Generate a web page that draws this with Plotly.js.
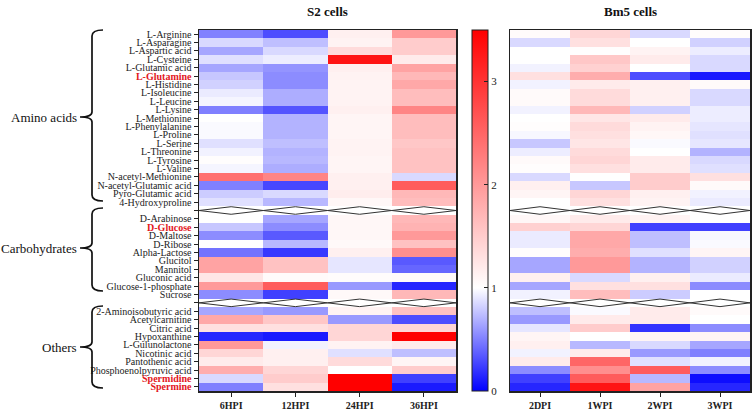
<!DOCTYPE html>
<html>
<head>
<meta charset="utf-8">
<script src="https://cdn.plot.ly/plotly-3.0.1.min.js"></script>
<style>html,body{margin:0;padding:0;background:#fff;}#chart{width:756px;height:413px;}</style>
</head>
<body>
<div id="chart"></div>
<script>
// Row labels ('' = broken-axis separator row)
const rowLabels = [
  'L-Arginine','L-Asparagine','L-Aspartic acid','L-Cysteine','L-Glutamic acid','L-Glutamine',
  'L-Histidine','L-Isoleucine','L-Leucine','L-Lysine','L-Methionine','L-Phenylalanine','L-Proline',
  'L-Serine','L-Threonine','L-Tyrosine','L-Valine','N-acetyl-Methionine','N-acetyl-Glutamic acid',
  'Pyro-Glutamic acid','4-Hydroxyproline','',
  'D-Arabinose','D-Glucose','D-Maltose','D-Ribose','Alpha-Lactose','Glucitol','Mannitol',
  'Gluconic acid','Glucose-1-phosphate','Sucrose','',
  '2-Aminoisobutyric acid','Acetylcarnitine','Citric acid','Hypoxanthine','L-Gulunolactone',
  'Nicotinic acid','Pantothenic acid','Phosphoenolpyruvic acid','Spermidine','Spermine'
];
const highlighted = ['L-Glutamine','D-Glucose','Spermidine','Spermine'];
const groupNames = ['Amino acids','Carbohydrates','Others'];

const s2Cols = ['6HPI','12HPI','24HPI','36HPI'];
const bm5Cols = ['2DPI','1WPI','2WPI','3WPI'];

// S2 cells
const s2_6HPI  = [0.5,0.85,0.65,0.88,0.65,0.78,0.82,0.92,0.96,0.5,1.0,0.98,0.98,0.88,0.95,1.02,0.96,2.4,0.5,0.8,0.88,null,1.0,0.78,0.55,1.0,0.45,1.9,1.9,1.25,2.0,0.55,null,0.65,1.85,1.3,0.15,2.0,1.4,1.2,1.8,0.85,0.5];
const s2_12HPI = [0.3,0.75,0.85,0.93,0.58,0.55,0.55,0.68,0.68,0.33,0.7,0.7,0.7,0.75,0.7,0.72,0.68,2.2,0.28,0.85,0.72,null,0.65,0.55,0.35,0.72,0.22,1.6,1.6,1.05,2.6,0.25,null,0.6,1.55,1.3,0.1,0.95,1.15,1.15,1.4,1.5,1.3];
const s2_24HPI = [1.15,1.12,1.35,3.3,1.15,1.12,1.12,1.12,1.12,1.15,1.1,1.1,1.1,1.12,1.12,1.1,1.1,1.15,1.15,1.18,1.08,null,1.08,1.08,1.08,1.06,1.15,0.9,0.9,1.03,0.6,1.06,null,1.12,0.6,1.4,1.4,1.12,0.88,1.35,1.0,3.5,3.5];
const s2_36HPI = [2.0,1.5,1.5,1.2,1.9,1.7,1.85,1.65,1.65,2.2,1.65,1.65,1.65,1.55,1.6,1.6,1.6,0.85,2.6,1.7,1.65,null,1.7,1.75,2.0,1.6,2.1,0.35,0.4,1.05,0.15,1.7,null,1.6,0.3,1.4,3.5,1.2,0.75,1.1,1.5,0.25,0.1];

// Bm5 cells
const bm5_2DPI = [1.04,0.85,1.0,1.0,0.95,1.3,0.95,1.05,1.05,0.95,1.0,1.02,0.97,0.78,0.93,1.05,1.02,0.85,1.15,1.1,1.0,null,1.08,1.45,0.92,0.92,1.02,0.65,0.65,1.15,0.65,0.95,null,0.75,0.6,0.9,1.1,1.15,0.95,1.2,0.55,0.25,0.15];
const bm5_1WPI = [1.4,1.3,1.02,1.55,1.45,1.8,1.2,1.35,1.35,1.7,1.25,1.35,1.3,1.25,1.35,1.4,1.3,1.0,0.78,1.4,1.3,null,1.2,1.4,1.85,1.85,1.8,2.0,2.0,0.85,1.3,1.65,null,0.98,1.2,1.5,1.0,0.72,1.2,2.5,2.1,2.6,3.3];
const bm5_2WPI = [0.85,1.0,1.12,1.2,1.0,0.3,1.15,1.15,1.15,0.82,1.2,1.12,1.08,0.98,1.0,1.2,1.2,1.5,1.5,1.15,1.12,null,1.12,0.25,0.75,0.75,0.88,0.7,0.7,1.15,1.3,0.8,null,1.2,1.2,0.2,1.1,0.85,0.6,0.88,2.6,0.72,1.9];
const bm5_3WPI = [1.03,0.82,0.93,0.85,0.85,0.1,1.05,0.85,0.85,0.93,0.93,0.9,0.88,0.9,0.7,0.85,0.88,1.3,1.05,0.95,0.92,null,1.0,0.25,0.97,0.98,1.1,0.82,0.82,0.92,0.55,1.0,null,1.05,1.0,0.55,1.1,0.65,0.5,0.95,0.55,0.05,0.15];

const colorTicks = [0,1,2,3];

// ---- build ----
const W = 756, H = 413, ML = 199, MR = 6, MT = 30, MB = 22;
const PW = W - ML - MR, PH = H - MT - MB;
const px = X => (X - ML) / PW;
const py = Y => 1 - (Y - MT) / PH;

const rowIdx = rowLabels.map((_, i) => i);
const tickText = rowLabels.map(l => highlighted.includes(l)
  ? '<b><span style="color:#e3171d">' + l + '</span></b>' : l);

function zMatrix(cols) {
  return rowLabels.map((_, r) => cols.map(c => c[r]));
}
const zS2 = zMatrix([s2_6HPI, s2_12HPI, s2_24HPI, s2_36HPI]);
const zBm5 = zMatrix([bm5_2DPI, bm5_1WPI, bm5_2WPI, bm5_3WPI]);

const cscale = [[0,'#0000ff'],[1/3.5,'#ffffff'],[1,'#ff0000']];
const serif = 'Liberation Serif, Times New Roman, serif';

const traces = [
  {type:'heatmap', x:[0,1,2,3], y:rowIdx, z:zS2, xaxis:'x', yaxis:'y',
   colorscale:cscale, zmin:0, zmax:3.5, xgap:0, ygap:0, hoverongaps:false,
   colorbar:{x:px(472), xanchor:'left', thickness:16, len:1, lenmode:'fraction', y:0.5, yanchor:'middle',
     ypad:0, xpad:0, outlinewidth:1, outlinecolor:'#222', tickvals:colorTicks, ticks:'inside', ticklen:4,
     tickcolor:'#222', tickfont:{family:serif, size:11, color:'#222'}}},
  {type:'heatmap', x:[0,1,2,3], y:rowIdx, z:zBm5, xaxis:'x2', yaxis:'y2',
   colorscale:cscale, zmin:0, zmax:3.5, showscale:false, hoverongaps:false}
];

const axBase = {showline:true, mirror:true, linecolor:'#222', linewidth:1.5, showgrid:false, zeroline:false};
const shapes = [];
// broken-axis separator zigzags
rowLabels.forEach((l, r) => {
  if (l !== '') return;
  ['x','x2'].forEach((xr, k) => {
    const ya = k === 0 ? 'y' : 'y2';
    let p1 = 'M -0.5,' + r, p2 = 'M -0.5,' + r;
    for (let c = 0; c < 4; c++) {
      p1 += ' L ' + c + ',' + (r - 0.45) + ' L ' + (c + 0.5) + ',' + r;
      p2 += ' L ' + c + ',' + (r + 0.45) + ' L ' + (c + 0.5) + ',' + r;
    }
    shapes.push({type:'path', xref:xr, yref:ya, path:p1, line:{color:'#333', width:1}});
    shapes.push({type:'path', xref:xr, yref:ya, path:p2, line:{color:'#333', width:1}});
  });
});
// group braces
const braces = [[30,201,117],[208,291,248],[306,388,347]];
const annotations = [];
braces.forEach((b, i) => {
  const [T, B, M] = b, X = 92, R = 103, L = 80;
  const P = (x, y) => px(x) + ',' + py(y);
  const path = 'M ' + P(R, T) + ' Q ' + P(X, T) + ' ' + P(X, T + 6) +
    ' L ' + P(X, M - 5) + ' Q ' + P(X, M) + ' ' + P(L, M) +
    ' Q ' + P(X, M) + ' ' + P(X, M + 5) + ' L ' + P(X, B - 6) +
    ' Q ' + P(X, B) + ' ' + P(R, B);
  shapes.push({type:'path', xref:'paper', yref:'paper', path:path, line:{color:'#111', width:1.7}});
  annotations.push({xref:'paper', yref:'paper', x:px(79), y:py(M), xanchor:'right', yanchor:'middle',
    text:groupNames[i], showarrow:false, font:{family:serif, size:13, color:'#111'}});
});
const d1 = [0, px(456)], d2 = [px(510), 1];
annotations.push({xref:'paper', yref:'paper', x:(d1[0]+d1[1])/2, y:py(11), xanchor:'center', yanchor:'middle',
  text:'<b>S2 cells</b>', showarrow:false, font:{family:serif, size:13, color:'#111'}});
annotations.push({xref:'paper', yref:'paper', x:(d2[0]+d2[1])/2, y:py(11), xanchor:'center', yanchor:'middle',
  text:'<b>Bm5 cells</b>', showarrow:false, font:{family:serif, size:13, color:'#111'}});

const xTickFont = {family:serif, size:10, color:'#222', weight:'bold'};
const layout = {
  width:W, height:H, margin:{l:ML, r:MR, t:MT, b:MB, pad:0},
  paper_bgcolor:'#fff', plot_bgcolor:'#fff', showlegend:false,
  font:{family:serif, color:'#222'},
  xaxis:Object.assign({}, axBase, {domain:d1, range:[-0.5,3.5], tickvals:[0,1,2,3], ticktext:s2Cols,
    ticks:'outside', ticklen:4, tickcolor:'#222', tickfont:xTickFont}),
  xaxis2:Object.assign({}, axBase, {domain:d2, range:[-0.5,3.5], tickvals:[0,1,2,3], ticktext:bm5Cols,
    ticks:'outside', ticklen:4, tickcolor:'#222', tickfont:xTickFont, anchor:'y2'}),
  yaxis:Object.assign({}, axBase, {range:[42.5,-0.5], tickvals:rowIdx, ticktext:tickText,
    ticks:'outside', ticklen:4, tickcolor:'#222', tickfont:{family:serif, size:10, color:'#222'}, anchor:'x'}),
  yaxis2:Object.assign({}, axBase, {range:[42.5,-0.5], showticklabels:false, ticks:'', anchor:'x2'}),
  shapes:shapes, annotations:annotations
};
Plotly.newPlot('chart', traces, layout, {staticPlot:true, displayModeBar:false});
</script>
</body>
</html>
